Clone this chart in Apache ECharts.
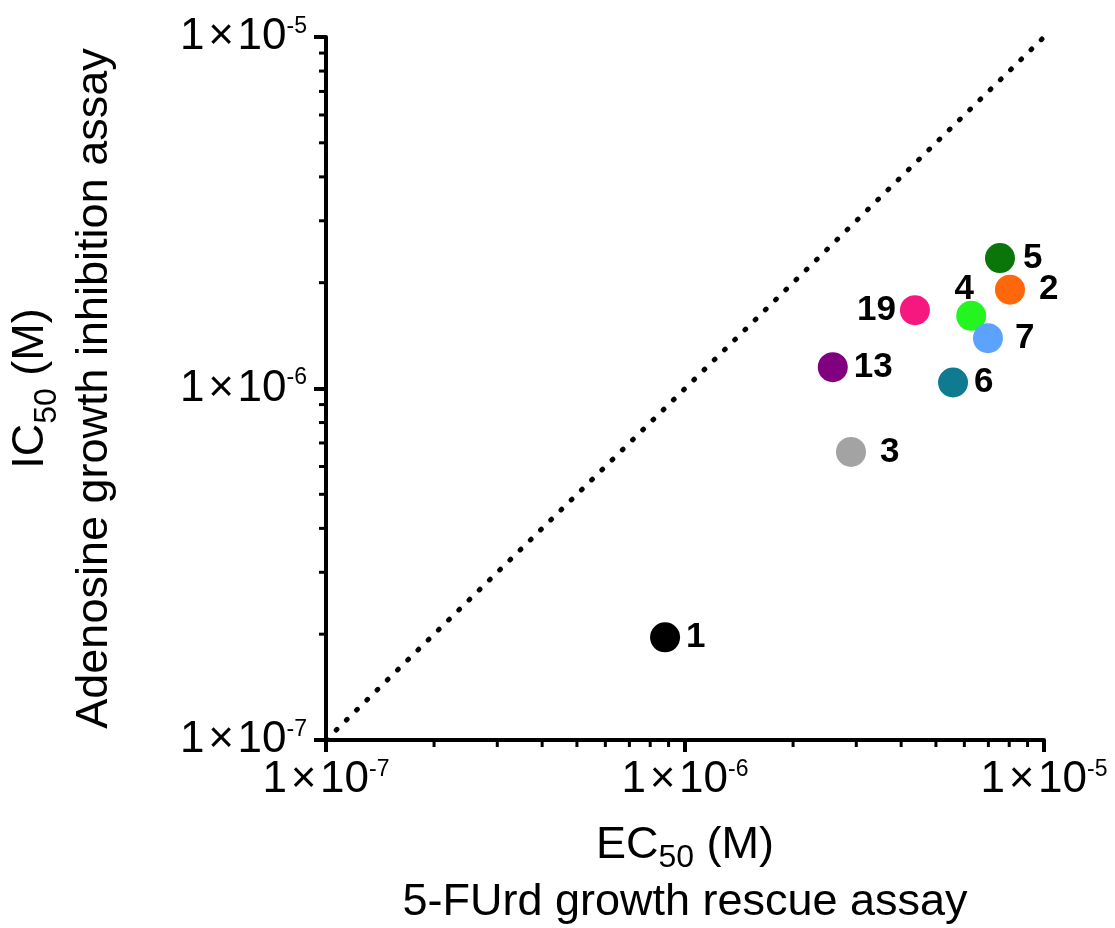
<!DOCTYPE html>
<html>
<head>
<meta charset="utf-8">
<script src="https://cdn.jsdelivr.net/npm/echarts@6/dist/echarts.min.js"></script>
<style>
  html, body { margin: 0; padding: 0; background: #fff; }
  #chart { width: 1115px; height: 928px; }
</style>
</head>
<body>
<div id="chart"></div>
<script>
// compound numbers and their measured values (M)
const compounds = ['1', '3', '13', '19', '6', '4', '7', '2', '5']
const ec50 = [8.8e-7, 2.9e-6, 2.58e-6, 4.37e-6, 5.58e-6, 6.27e-6, 6.98e-6, 8.04e-6, 7.54e-6]
const ic50 = [1.96e-7, 6.6e-7, 1.15e-6, 1.67e-6, 1.04e-6, 1.61e-6, 1.39e-6, 1.91e-6, 2.35e-6]
// identity line y = x
const diagonal = [[1e-7, 1e-7], [1e-5, 1e-5]]
const minorFactors = [2, 3, 4, 5, 6, 7, 8, 9]
const decades = [1e-7, 1e-6]

// per-compound look: colour and where its number sits
const pointColors = ['#000000', '#a3a3a3', '#800080', '#f7187f', '#0f7b91', '#22f51f', '#5ca3ff', '#ff680a', '#0a760a']
const labelSide = ['right', 'right', 'right', 'left', 'right', 'top', 'right', 'right', 'right']
const labelGap = [6, 14, 6, 4, 6, 4, 12, 14, 8]
const labelShift = [[0, 0], [0, 0], [0, 0], [0, 0], [0, 0], [-7, 10], [0, 0], [0, 0], [0, 0]]

const font = '"Liberation Sans", Arial, sans-serif'
const chart = echarts.init(document.getElementById('chart'))

const tickRich = {
  b: { fontSize: 44, fontFamily: font, color: '#000' },
  s: { fontSize: 23, fontFamily: font, color: '#000', verticalAlign: 'top' }
}
const powerLabel = (v) => '{b|1\u200A×\u200A10}{s|' + Math.round(Math.log10(v)) + '}'

const logAxis = (extra) => Object.assign({
  type: 'log',
  logBase: 10,
  min: 1e-7,
  max: 1e-5,
  splitNumber: 2,
  axisLine: { show: true, lineStyle: { color: '#000', width: 4 } },
  axisTick: { show: true, inside: false, length: 12, lineStyle: { color: '#000', width: 4 } },
  splitLine: { show: false },
  nameLocation: 'middle'
}, extra)

const titleRich = (lh, subLh) => ({
  a: { fontSize: 45, fontFamily: font, color: '#000', lineHeight: lh },
  sub: { fontSize: 32, fontFamily: font, color: '#000', verticalAlign: 'bottom', lineHeight: subLh }
})

const option = {
  animation: false,
  grid: { left: 326, right: 71, top: 37, bottom: 188, containLabel: false, outerBoundsMode: 'none' },
  xAxis: logAxis({
    name: '{a|EC}{sub|50}{a| (M)}\n{a|5-FUrd growth rescue assay}',
    nameGap: 77,
    nameTextStyle: { rich: titleRich(57, 51), align: 'center', verticalAlign: 'top' },
    axisLabel: { formatter: powerLabel, rich: tickRich, margin: 18 }
  }),
  yAxis: logAxis({
    name: '{a|IC}{sub|50}{a| (M)}\n{a|Adenosine growth inhibition assay}',
    nameGap: 199,
    nameRotate: 90,
    nameTextStyle: { rich: titleRich(64, 58), align: 'center' },
    axisLabel: { formatter: powerLabel, rich: tickRich, margin: 19 }
  }),
  series: [
    {
      type: 'line',
      data: diagonal,
      showSymbol: false,
      silent: true,
      z: 1,
      lineStyle: { color: '#000', width: 5, type: [1, 13.3], cap: 'round' }
    },
    {
      type: 'scatter',
      symbolSize: 30,
      z: 3,
      itemStyle: { opacity: 1 },
      data: compounds.map((c, i) => ({
        name: c,
        value: [ec50[i], ic50[i]],
        itemStyle: { color: pointColors[i], opacity: 1 },
        label: { position: labelSide[i], distance: labelGap[i], offset: labelShift[i] }
      })),
      label: {
        show: true,
        formatter: '{b}',
        fontSize: 35,
        fontWeight: 'bold',
        fontFamily: font,
        color: '#000'
      }
    }
  ]
}
chart.setOption(option)

// minor log ticks (2..9 of each decade), placed through the axis scales
const minorTicks = []
const x0 = chart.convertToPixel({ xAxisIndex: 0 }, 1e-7)
const y0 = chart.convertToPixel({ yAxisIndex: 0 }, 1e-7)
decades.forEach((d) => {
  minorFactors.forEach((f) => {
    const v = d * f
    const px = chart.convertToPixel({ xAxisIndex: 0 }, v)
    const py = chart.convertToPixel({ yAxisIndex: 0 }, v)
    minorTicks.push({
      type: 'line', silent: true,
      shape: { x1: px, y1: y0, x2: px, y2: y0 + 7 },
      style: { stroke: '#000', lineWidth: 3 }
    })
    minorTicks.push({
      type: 'line', silent: true,
      shape: { x1: x0, y1: py, x2: x0 - 7, y2: py },
      style: { stroke: '#000', lineWidth: 3 }
    })
  })
})
chart.setOption({ graphic: minorTicks })
</script>
</body>
</html>
